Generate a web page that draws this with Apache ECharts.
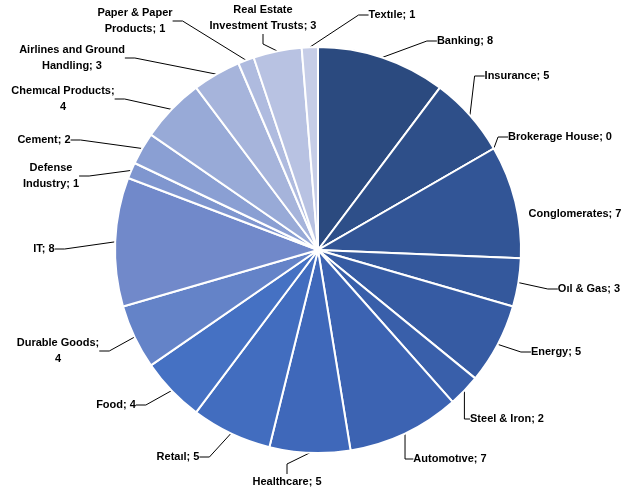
<!DOCTYPE html>
<html>
<head>
<meta charset="utf-8">
<script src="https://cdn.jsdelivr.net/npm/echarts@6/dist/echarts.min.js"></script>
<style>html,body{margin:0;padding:0;background:#fff}#c{width:640px;height:495px}</style>
</head>
<body>
<div id="c"></div>
<script>
// ---- data ----
const categories = ["Banking","Insurance","Brokerage House","Conglomerates","Oıl & Gas","Energy","Steel & Iron","Automotıve","Healthcare","Retaıl","Food","Durable Goods","IT","Defense Industry","Cement","Chemıcal Products","Airlines and Ground Handling","Paper & Paper Products","Real Estate Investment Trusts","Textıle"];
const values = [8,5,0,7,3,5,2,7,5,5,4,4,8,1,2,4,3,1,3,1];

// ---- styles ----
const colors = ["#2B4A7F","#2E4F89","#305293","#325596","#34589C","#365BA3","#395FAA","#3C63B2","#3F68BA","#426DBF","#4571C3","#6483C8","#7189CA","#7F96CF","#8A9FD3","#98AAD7","#A6B4DB","#AFBBDF","#B8C2E2","#C6CDE7"];
const labelText = {
  "Paper & Paper Products": "Paper & Paper\nProducts",
  "Real Estate Investment Trusts": "Real Estate\nInvestment Trusts",
  "Airlines and Ground Handling": "Airlines and Ground\nHandling",
  "Defense Industry": "Defense\nIndustry"
};
const breakBeforeValue = {"Chemıcal Products": true, "Durable Goods": true};
const labelPos = [[465,41],[517,76],[560,137],[575,214],[589,289],[556,352],[507,419],[450,459],[287,482],[178,457],[116,405],[58,351],[44,249],[51,176],[44,140],[63,99],[72,58],[135,21],[263,18],[392,15]];

const chart = echarts.init(document.getElementById('c'), null, {renderer: 'canvas'});
chart.setOption({
  animation: false,
  series: [{
    type: 'pie',
    center: [318, 250],
    radius: 203,
    startAngle: 90,
    clockwise: true,
    avoidLabelOverlap: false,
    color: colors,
    itemStyle: {borderColor: '#fff', borderWidth: 2},
    label: {
      show: true,
      position: 'outside',
      color: '#000',
      fontFamily: 'Liberation Sans',
      fontWeight: 'bold',
      fontSize: 11,
      lineHeight: 16,
      align: 'center',
      formatter: function (p) {
        const n = labelText[p.name] || p.name;
        return n + (breakBeforeValue[p.name] ? ';\n' : '; ') + p.value;
      }
    },
    labelLine: {show: true, length: 10, length2: 10, lineStyle: {color: '#000', width: 1}},
    labelLayout: function (p) {
      const pos = labelPos[p.dataIndex];
      return {x: pos[0], y: pos[1], align: 'center', verticalAlign: 'middle'};
    },
    data: categories.map((c, i) => ({name: c, value: values[i], labelLine: {show: c !== 'Conglomerates'}}))
  }]
});
</script>
</body>
</html>
